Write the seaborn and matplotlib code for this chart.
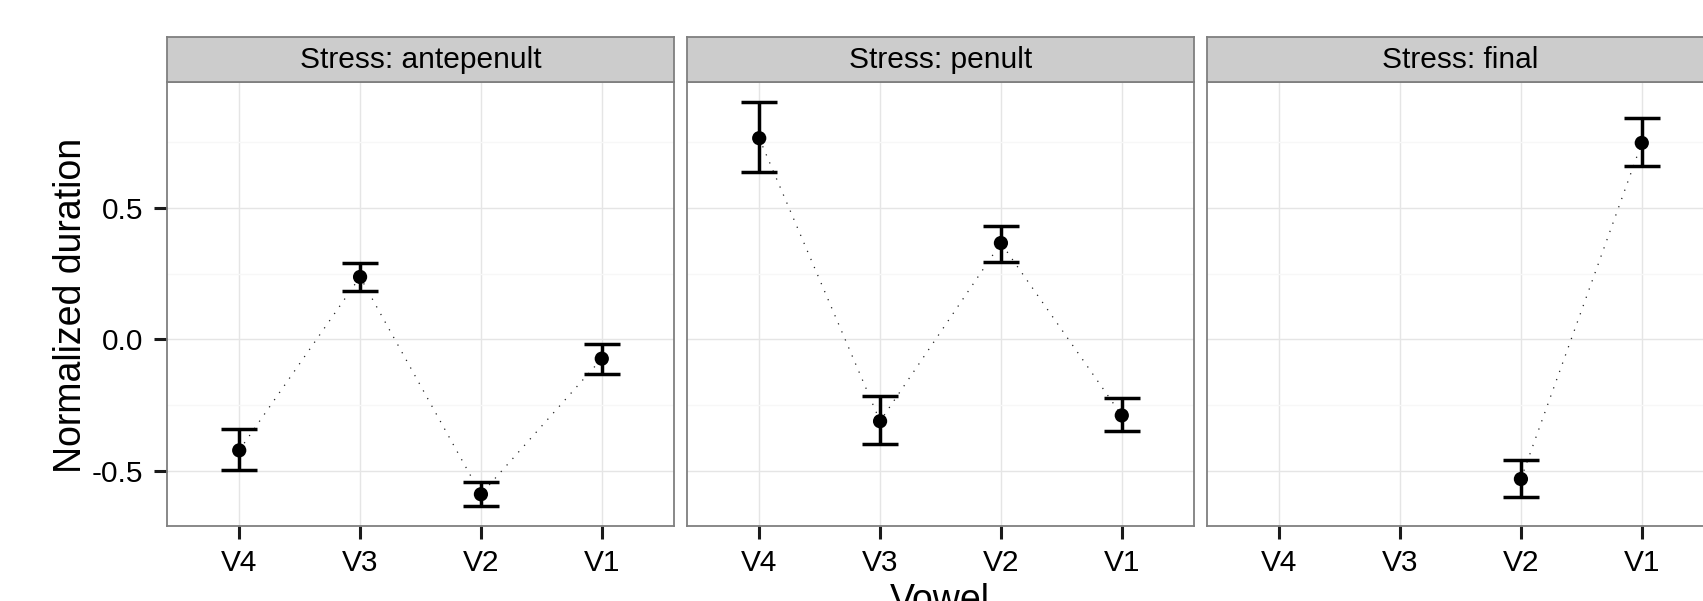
import numpy as np
import pandas as pd
import matplotlib
matplotlib.use("Agg")
import matplotlib.pyplot as plt
import seaborn as sns

# ---------------- data ----------------
vowels = ["V4", "V3", "V2", "V1"]
stress_levels = ["antepenult", "penult", "final"]

antepenult_vowels = ["V4", "V3", "V2", "V1"]
antepenult_mean = [-0.423, 0.237, -0.590, -0.074]
antepenult_lo = [-0.499, 0.183, -0.634, -0.131]
antepenult_hi = [-0.341, 0.290, -0.544, -0.018]

penult_vowels = ["V4", "V3", "V2", "V1"]
penult_mean = [0.765, -0.312, 0.366, -0.290]
penult_lo = [0.635, -0.399, 0.295, -0.351]
penult_hi = [0.902, -0.218, 0.432, -0.223]

final_vowels = ["V2", "V1"]
final_mean = [-0.532, 0.747]
final_lo = [-0.600, 0.658]
final_hi = [-0.461, 0.843]

y_ticks = [-0.5, 0.0, 0.5]
y_tick_labels = ["-0.5", "0.0", "0.5"]
y_minor_ticks = [-0.25, 0.25, 0.75]

series = {
    "antepenult": (antepenult_vowels, antepenult_mean, antepenult_lo, antepenult_hi),
    "penult": (penult_vowels, penult_mean, penult_lo, penult_hi),
    "final": (final_vowels, final_mean, final_lo, final_hi),
}
rows = []
for s in stress_levels:
    vs, m, lo, hi = series[s]
    for v, mm, l, h in zip(vs, m, lo, hi):
        rows.append({"stress": s, "vowel": v, "pos": vowels.index(v),
                     "mean": mm, "lo": l, "hi": h})
df = pd.DataFrame(rows)

# ---------------- style ----------------
sns.set_theme(style="ticks")
plt.rcParams['font.family'] = ['Liberation Sans', 'DejaVu Sans']
plt.rcParams['axes.unicode_minus'] = False

W, H = 1703, 601
fig = plt.figure(figsize=(W / 100, H / 100), dpi=100)
fig.patch.set_facecolor('white')

panel_lefts = [166.7, 686.7, 1206.7]
panel_w = 507.6
panel_top, panel_bot = 82.0, 526.0
strip_top = 37.3

ymin, ymax = df["lo"].min(), df["hi"].max()
rng = ymax - ymin
ylim = (ymin - 0.05 * rng, ymax + 0.05 * rng)

border = '#7F7F7F'
for i, s in enumerate(stress_levels):
    left = panel_lefts[i] / W
    ax = fig.add_axes([left, 1 - panel_bot / H, panel_w / W, (panel_bot - panel_top) / H])
    sub = df[df["stress"] == s]
    ax.set_facecolor('white')

    sns.lineplot(data=sub, x="pos", y="mean", ax=ax, color='#222222', lw=0.9,
                 linestyle=(0, (1, 6)), errorbar=None, sort=False, zorder=2)
    ax.errorbar(sub["pos"], sub["mean"],
                yerr=[sub["mean"] - sub["lo"], sub["hi"] - sub["mean"]],
                fmt='none', ecolor='black', elinewidth=2.5, capsize=13,
                capthick=2.5, zorder=3)
    sns.scatterplot(data=sub, x="pos", y="mean", ax=ax, s=105, color='black',
                    edgecolor='none', zorder=4, legend=False)

    ax.set_xlim(-0.6, 3.6)
    ax.set_ylim(*ylim)
    ax.set_xticks(range(len(vowels)))
    ax.set_xticklabels(vowels)
    ax.set_yticks(y_ticks)
    ax.set_yticks(y_minor_ticks, minor=True)
    ax.set_yticklabels(y_tick_labels)
    ax.grid(True, which='major', color='#E5E5E5', lw=1.0)
    ax.grid(True, which='minor', axis='y', color='#F7F7F7', lw=1.0)
    ax.set_axisbelow(True)
    ax.set_xlabel("")
    ax.set_ylabel("")
    for sp in ax.spines.values():
        sp.set_visible(True)
        sp.set_color(border)
        sp.set_linewidth(1.3)
    ax.tick_params(axis='both', which='major', direction='out', length=9.4,
                   width=2.2, color='#1A1A1A', labelsize=21.5, labelcolor='black',
                   pad=7.5, bottom=True, left=True)
    ax.tick_params(axis='both', which='minor', length=0)
    if i > 0:
        ax.tick_params(axis='y', left=False, labelleft=False)

    # strip
    sax = fig.add_axes([left, 1 - panel_top / H, panel_w / W, (panel_top - strip_top) / H])
    sax.set_facecolor('#CCCCCC')
    sax.set_xticks([])
    sax.set_yticks([])
    for sp in sax.spines.values():
        sp.set_visible(True)
        sp.set_color(border)
        sp.set_linewidth(1.3)
    sax.text(0.5, 0.5, f"Stress: {s}", transform=sax.transAxes, ha='center',
             va='center', fontsize=21.5, color='black')

fig.text(70.6 / W, 1 - 305 / H, "Normalized duration", rotation=90,
         ha='center', va='center', fontsize=27, color='black')
fig.text(940 / W, 1 - 583 / H, "Vowel", ha='center', va='top',
         fontsize=27, color='black')

fig.savefig("out.png", dpi=100, facecolor='white')
